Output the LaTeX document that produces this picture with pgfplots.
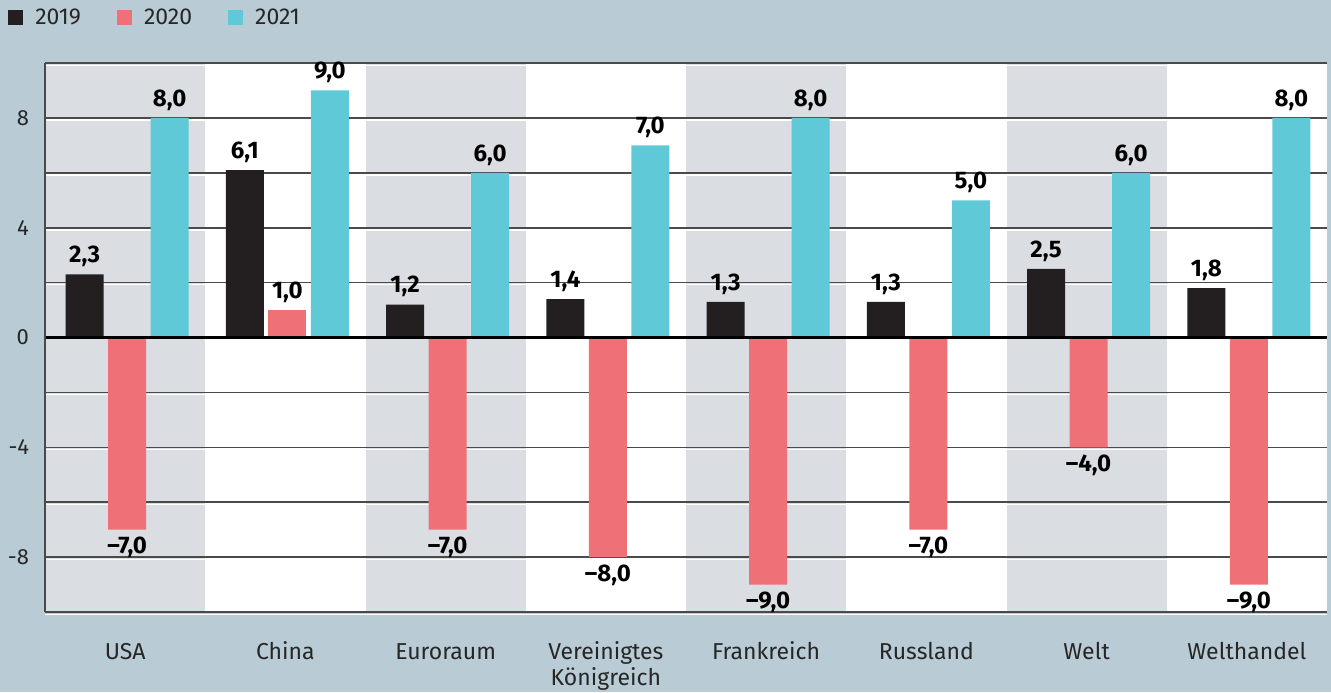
\documentclass[border=0pt]{standalone}
\usepackage{pgfplots}
\usepackage{pgfplotstable}
\pgfplotsset{compat=1.18}
\usepackage{fontspec}
\setmainfont{Fira Sans}
\definecolor{bgblue}{HTML}{B9CCD5}
\definecolor{bandc}{HTML}{DADDE2}
\definecolor{gridc}{HTML}{4A4A4A}
\definecolor{cA}{HTML}{231F20}
\definecolor{cB}{HTML}{F07077}
\definecolor{cC}{HTML}{5FC9D8}

\pgfplotstableread{
x y lab
0 2.3 2,3
1 6.1 6,1
2 1.2 1,2
3 1.4 1,4
4 1.3 1,3
5 1.3 1,3
6 2.5 2,5
7 1.8 1,8
}\dA
% 2020: negative values
\pgfplotstableread{
x y lab
0 -7 –7,0
2 -7 –7,0
3 -8 –8,0
4 -9 –9,0
5 -7 –7,0
6 -4 –4,0
7 -9 –9,0
}\dBneg
% 2020: positive value
\pgfplotstableread{
x y lab
1 1 1,0
}\dBpos
\pgfplotstableread{
x y lab
0 8 8,0
1 9 9,0
2 6 6,0
3 7 7,0
4 8 8,0
5 5 5,0
6 6 6,0
7 8 8,0
}\dC

\begin{document}
\begin{tikzpicture}
\fill[bgblue] (0,0) rectangle (665.5pt,346pt);
\begin{axis}[
  at={(22.5pt,40pt)}, anchor=south west,
  scale only axis, width=641pt, height=274.5pt,
  xmin=-0.5, xmax=7.5, ymin=-10, ymax=10,
  ybar, bar width=19pt,
  every axis plot post/.append style={legend image code/.code={\fill[##1] (0pt,-3.75pt) rectangle (7.5pt,3.75pt);}},
  axis line style={draw=none},
  xtick={0,...,7},
  xticklabels={\strut USA, \strut China, \strut Euroraum, {\strut Vereinigtes\\Königreich}, \strut Frankreich, \strut Russland, \strut Welt, \strut Welthandel},
  xticklabel style={align=center, font=\fontsize{11.5}{13}\selectfont, yshift=-11pt, text=black!85},
  major tick length=0pt, minor tick length=0pt,
  ytick={-8,-4,0,4,8},
  yticklabel style={font=\fontsize{11}{13}\selectfont, xshift=-4.5pt, text=black!85},
  /pgf/number format/assume math mode=true,
  clip=false,
  nodes near coords, point meta=explicit symbolic,
  every node near coord/.append style={font=\bfseries\fontsize{12}{14}\selectfont, text=black, inner sep=3.5pt},
  legend columns=3,
  legend style={at={(-0.0289,1)}, anchor=west, yshift=22.5pt, draw=none, fill=none, inner sep=0pt,
    font=\fontsize{11.5}{13}\selectfont, text=black!85,
    /tikz/every odd column/.append style={column sep=4pt},
    /tikz/every even column/.append style={column sep=16pt}},
]
\fill[white] (axis cs:-0.5,-10) rectangle (axis cs:7.5,10);
\fill[bandc] (axis cs:-0.5,-10) rectangle (axis cs:0.5,10);
\fill[bandc] (axis cs:1.5,-10) rectangle (axis cs:2.5,10);
\fill[bandc] (axis cs:3.5,-10) rectangle (axis cs:4.5,10);
\fill[bandc] (axis cs:5.5,-10) rectangle (axis cs:6.5,10);
\pgfplotsinvokeforeach{-10,-8,-6,-4,-2,2,4,6,8,10}{
  \draw[white, line width=0.6pt] ([yshift=-1.1pt]axis cs:-0.5,#1) -- ([yshift=-1.1pt]axis cs:7.5,#1);
  \draw[gridc, line width=0.8pt] (axis cs:-0.5,#1) -- (axis cs:7.5,#1);
}
\addplot[fill=cA, draw=none, bar shift=-20.25pt] table[x=x, y=y, meta=lab] {\dA};
\addplot[fill=cB, draw=none, bar shift=1pt,
   every node near coord/.append style={anchor=north}] table[x=x, y=y, meta=lab] {\dBneg};
\addplot[fill=cB, draw=none, bar shift=1pt, forget plot] table[x=x, y=y, meta=lab] {\dBpos};
\addplot[fill=cC, draw=none, bar shift=22.25pt] table[x=x, y=y, meta=lab] {\dC};
\legend{2019, 2020, 2021}
\draw[black, line width=1.6pt] (axis cs:-0.5,0) -- (axis cs:7.5,0);
\draw[gridc, line width=1.2pt] (axis cs:-0.5,-10) -- (axis cs:-0.5,10);
\end{axis}
\pgfresetboundingbox
\path[use as bounding box] (0,0) rectangle (665.5pt,346pt);
\end{tikzpicture}
\end{document}
